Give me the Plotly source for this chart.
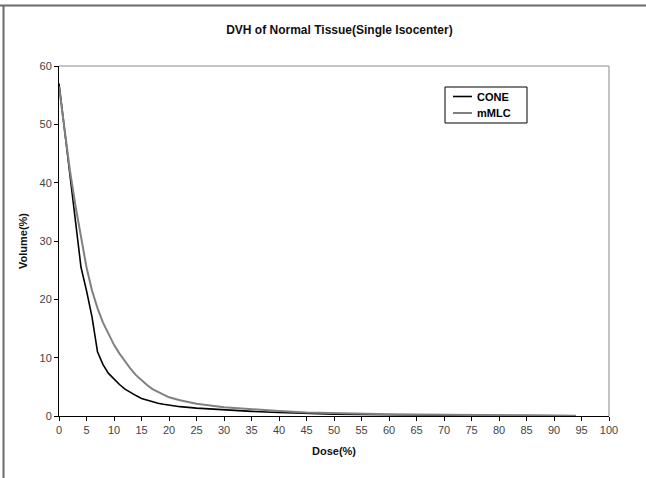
import plotly.graph_objects as go

dose_cone = [0, 1, 2, 3, 4, 5, 6, 7, 8, 9, 10, 11, 12, 13, 14, 15, 16, 17, 18, 19, 20,
             22, 25, 30, 35, 40, 45, 50, 55, 60, 65, 70, 75, 80, 85, 90, 94]
vol_cone = [57, 49, 41, 33, 25.5, 21.5, 17, 11, 8.8, 7.3, 6.3, 5.4, 4.6, 4.0, 3.5, 3.0, 2.7, 2.4, 2.2, 2.0, 1.85,
            1.6, 1.35, 1.05, 0.8, 0.6, 0.42, 0.33, 0.26, 0.2, 0.16, 0.13, 0.1, 0.08, 0.06, 0.04, 0.02]

dose_mmlc = [0, 1, 2, 3, 4, 5, 6, 7, 8, 9, 10, 11, 12, 13, 14, 15, 16, 17, 18, 19, 20,
             22, 25, 30, 35, 40, 45, 50, 55, 60, 65, 70, 75, 80, 85, 90, 94]
vol_mmlc = [56.5, 49, 42, 36, 30.5, 25.5, 21.5, 18.5, 16, 14, 12.2, 10.7, 9.3, 8.1, 7.0, 6.1, 5.3, 4.6, 4.1, 3.6, 3.2,
            2.7, 2.1, 1.5, 1.15, 0.85, 0.62, 0.48, 0.38, 0.3, 0.24, 0.2, 0.16, 0.12, 0.09, 0.06, 0.03]

series_names = ["CONE", "mMLC"]
series_colors = ["#000000", "#808080"]
series_widths = [1.6, 2]

x_ticks = list(range(0, 101, 5))
y_ticks = list(range(0, 61, 10))

FONT = "Liberation Sans, Arial, sans-serif"

# plot area: x 59..609 px, y 66..416 px
L, R, T, B = 59, 609, 66, 416
W, H = R - L, B - T
def px(x):
    return (x - L) / W
def py(y):
    return (B - y) / H

fig = go.Figure()
for xs, ys, name, col, w in zip([dose_cone, dose_mmlc], [vol_cone, vol_mmlc],
                                series_names, series_colors, series_widths):
    fig.add_trace(go.Scatter(x=xs, y=ys, mode="lines", name=name,
                             line=dict(color=col, width=w), showlegend=False))

shapes = [
    # gray top and right borders of plot area
    dict(type="line", xref="paper", yref="paper", x0=0, x1=1, y0=1, y1=1,
         line=dict(color="#b0b0b0", width=1.5)),
    dict(type="line", xref="paper", yref="paper", x0=1, x1=1, y0=0, y1=1,
         line=dict(color="#b0b0b0", width=1.5)),
    # outer frame (top and left)
    dict(type="line", xref="paper", yref="paper", x0=px(0), x1=px(660), y0=py(5.5), y1=py(5.5),
         line=dict(color="#6a6a6a", width=2)),
    dict(type="line", xref="paper", yref="paper", x0=px(3.5), x1=px(3.5), y0=py(5), y1=py(490),
         line=dict(color="#6a6a6a", width=2)),
    # legend box
    dict(type="rect", xref="paper", yref="paper", x0=px(445), x1=px(527), y0=py(87), y1=py(123),
         line=dict(color="#000", width=1), fillcolor="white"),
]
annotations = []
for i, (name, col, w) in enumerate(zip(series_names, series_colors, series_widths)):
    yy = 96.5 + i * 16.5
    shapes.append(dict(type="line", xref="paper", yref="paper", x0=px(453), x1=px(472),
                       y0=py(yy), y1=py(yy), line=dict(color=col, width=w)))
    annotations.append(dict(xref="paper", yref="paper", x=px(475), y=py(yy), xanchor="left",
                            yanchor="middle", showarrow=False, text=f"<b>{name}</b>",
                            font=dict(size=11, color="#000", family=FONT)))

fig.update_layout(
    width=646, height=478,
    margin=dict(l=L, r=646 - R, t=T, b=478 - B),
    paper_bgcolor="white", plot_bgcolor="white",
    font=dict(family=FONT, color="#222"),
    title=dict(text="<b>DVH of Normal Tissue(Single Isocenter)</b>",
               x=px(348), xanchor="center", y=1 - 30 / 478, yanchor="middle",
               font=dict(size=12, color="#111")),
    xaxis=dict(range=[0, 100], tickvals=x_ticks, ticks="outside", ticklen=4,
               tickcolor="#000", showline=True, linecolor="#000", linewidth=1,
               showgrid=False, zeroline=False,
               tickfont=dict(size=11, color="#444"),
               title=dict(text="<b>Dose(%)</b>", font=dict(size=11, color="#111"), standoff=12)),
    yaxis=dict(range=[0, 60], tickvals=y_ticks, ticks="outside", ticklen=4,
               tickcolor="#000", showline=True, linecolor="#000", linewidth=1,
               showgrid=False, zeroline=False,
               tickfont=dict(size=11, color="#444"),
               title=dict(text="<b>Volume(%)</b>", font=dict(size=11, color="#111"), standoff=9)),
    shapes=shapes,
    annotations=annotations,
    showlegend=False,
)

fig.write_html("out.html", config={"displayModeBar": False})
